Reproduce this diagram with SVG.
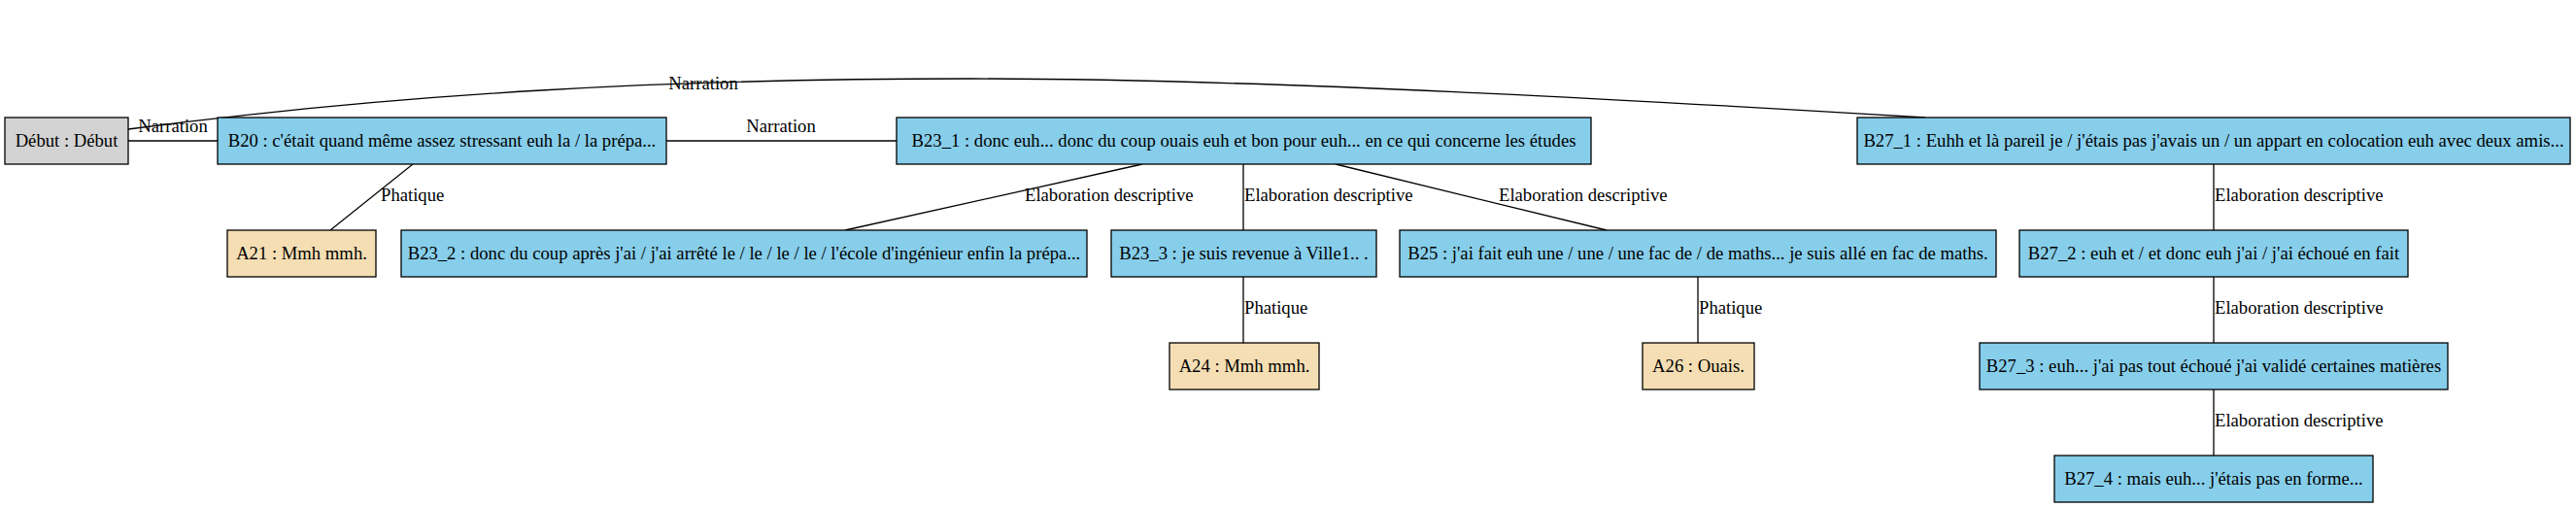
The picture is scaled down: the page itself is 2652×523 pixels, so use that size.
<svg xmlns="http://www.w3.org/2000/svg" width="2652" height="523" viewBox="0 0 2652 523">
<style>
.n rect{stroke:#000;stroke-width:1.3}
.deb{fill:#d3d3d3}.b{fill:#87ceeb}.a{fill:#f5deb3}
text{font-family:"Liberation Serif","Times New Roman",serif;font-size:18.67px;fill:#000}
.n text{text-anchor:middle}
.e path,.e line{stroke:#000;stroke-width:1.3;fill:none}
.lm{text-anchor:middle}
</style>
<rect width="2652" height="523" fill="#fff"/>
<g id="edges" class="e">
<line x1="132" y1="145" x2="224" y2="145"/>
<text x="178" y="136" class="lm">Narration</text>
<path d="M132,133 C420,95 700,81 1000,81 C1300,81 1700,104 1982,121"/>
<text x="724" y="92" class="lm">Narration</text>
<line x1="686" y1="145" x2="923" y2="145"/>
<text x="804" y="136" class="lm">Narration</text>
<line x1="425" y1="169" x2="340" y2="237"/>
<text x="392" y="207">Phatique</text>
<line x1="1176" y1="169" x2="870" y2="237"/>
<text x="1055" y="207">Elaboration descriptive</text>
<line x1="1280" y1="169" x2="1280" y2="237"/>
<text x="1281" y="207">Elaboration descriptive</text>
<line x1="1375" y1="169" x2="1654" y2="237"/>
<text x="1543" y="207">Elaboration descriptive</text>
<line x1="1280" y1="285" x2="1280" y2="353"/>
<text x="1281" y="323">Phatique</text>
<line x1="1748" y1="285" x2="1748" y2="353"/>
<text x="1749" y="323">Phatique</text>
<line x1="2279" y1="169" x2="2279" y2="237"/>
<text x="2280" y="207">Elaboration descriptive</text>
<line x1="2279" y1="285" x2="2279" y2="353"/>
<text x="2280" y="323">Elaboration descriptive</text>
<line x1="2279" y1="401" x2="2279" y2="469"/>
<text x="2280" y="439">Elaboration descriptive</text>
</g>
<g id="debut" class="n"><rect class="deb" x="5" y="121" width="127" height="48"/><text x="68.5" y="151">Début : Début</text></g>
<g id="B20" class="n"><rect class="b" x="224" y="121" width="462" height="48"/><text x="455" y="151">B20 : c'était quand même assez stressant euh la / la prépa...</text></g>
<g id="B23_1" class="n"><rect class="b" x="923" y="121" width="715" height="48"/><text x="1280.5" y="151">B23_1 : donc euh... donc du coup ouais euh et bon pour euh... en ce qui concerne les études</text></g>
<g id="B27_1" class="n"><rect class="b" x="1912" y="121" width="734" height="48"/><text x="2279" y="151">B27_1 : Euhh et là pareil je / j'étais pas j'avais un / un appart en colocation euh avec deux amis...</text></g>
<g id="A21" class="n"><rect class="a" x="234" y="237" width="153" height="48"/><text x="310.5" y="267">A21 : Mmh mmh.</text></g>
<g id="B23_2" class="n"><rect class="b" x="413" y="237" width="706" height="48"/><text x="766" y="267">B23_2 : donc du coup après j'ai / j'ai arrêté le / le / le / le / l'école d'ingénieur enfin la prépa...</text></g>
<g id="B23_3" class="n"><rect class="b" x="1144" y="237" width="273" height="48"/><text x="1280.5" y="267">B23_3 : je suis revenue à Ville1.. .</text></g>
<g id="B25" class="n"><rect class="b" x="1441" y="237" width="614" height="48"/><text x="1748" y="267">B25 : j'ai fait euh une / une / une fac de / de maths... je suis allé en fac de maths.</text></g>
<g id="B27_2" class="n"><rect class="b" x="2079" y="237" width="400" height="48"/><text x="2279" y="267">B27_2 : euh et / et donc euh j'ai / j'ai échoué en fait</text></g>
<g id="A24" class="n"><rect class="a" x="1204" y="353" width="154" height="48"/><text x="1281" y="383">A24 : Mmh mmh.</text></g>
<g id="A26" class="n"><rect class="a" x="1691" y="353" width="115" height="48"/><text x="1748.5" y="383">A26 : Ouais.</text></g>
<g id="B27_3" class="n"><rect class="b" x="2038" y="353" width="482" height="48"/><text x="2279" y="383">B27_3 : euh... j'ai pas tout échoué j'ai validé certaines matières</text></g>
<g id="B27_4" class="n"><rect class="b" x="2115" y="469" width="328" height="48"/><text x="2279" y="499">B27_4 : mais euh... j'étais pas en forme...</text></g>
</svg>
